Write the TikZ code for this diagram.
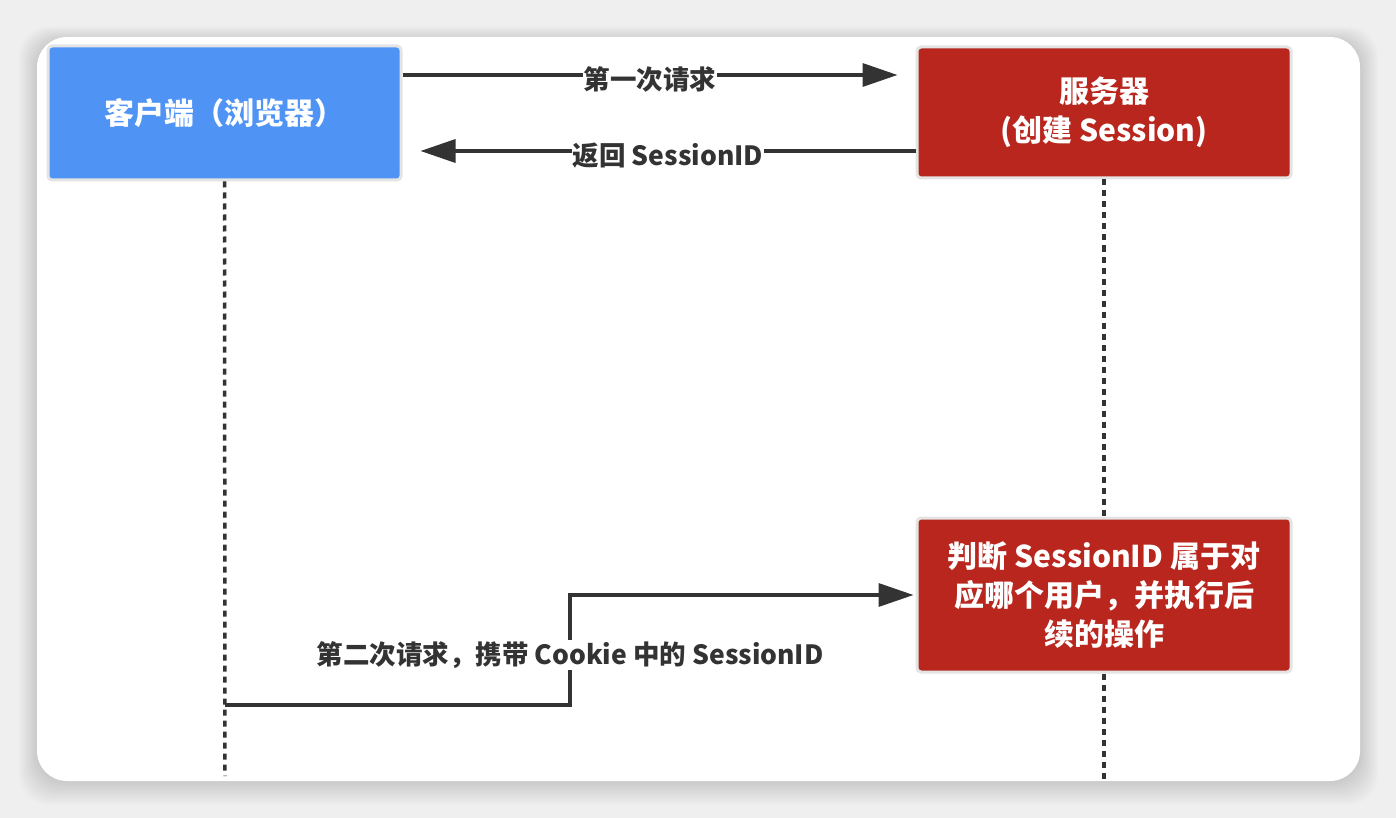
\documentclass[tikz,border=0pt]{standalone}
\usepackage{fontspec}
\setmainfont{Noto Sans CJK SC}
\usepackage{tikz}
\usetikzlibrary{arrows.meta,positioning,calc}
\definecolor{Ink}{HTML}{333333}
\definecolor{ClientBlue}{HTML}{4F94F5}
\definecolor{ServerRed}{HTML}{B8261E}
\definecolor{Halo}{HTML}{E4E4E4}
\definecolor{Backdrop}{HTML}{EFEFEF}

\begin{document}
\begin{tikzpicture}[x=1pt,y=-1pt,
  actor/.style={rounded corners=4pt,draw=Halo,line width=3pt,text=white,align=center,font=\fontsize{30}{39}\selectfont\bfseries},
  msg/.style={fill=white,text=Ink,inner sep=1pt,font=\fontsize{26.5}{30}\selectfont\bfseries},
  arrow/.style={-{Triangle[length=35pt,width=23pt]},line width=3.5pt,draw=Ink},
  life/.style={line width=3.5pt,draw=Ink,dash pattern=on 6pt off 5pt}
]
\useasboundingbox (0,0) rectangle (1396,818);
\fill[Backdrop] (0,0) rectangle (1396,818);
% card with a soft shadow
\foreach \i in {1,...,12} {
  \fill[black,opacity=0.012,rounded corners=30pt] (37-\i*1.5,37-\i*1.2+4) rectangle (1360+\i*1.5,781+\i*2);
}
\fill[white,rounded corners=30pt] (37,37) rectangle (1360,781);

\node[actor,fill=ClientBlue,minimum width=353pt,minimum height=134pt] (client) at (224.5,113) {客户端（浏览器）};
\node[actor,fill=ServerRed,minimum width=374pt,minimum height=131pt] (server) at (1104,112.5) {服务器\\(创建 Session)};
\node[actor,fill=ServerRed,minimum width=374pt,minimum height=154pt] (judge) at (1104,595) {判断 SessionID 属于对\\应哪个用户，并执行后\\续的操作};

\coordinate (cend) at (225,776);
\coordinate (send) at (1104,780);
\coordinate (c2) at (225,705);

% lifelines
\draw[life] (client.south) -- (cend);
\draw[life] (server.south) -- (judge.north);
\draw[life] (judge.south) -- (send);

% messages
\draw[arrow,shorten >=18pt] ([yshift=38pt]client.east) -- ([yshift=38pt]client.east -| server.west)
  node[msg,midway,xshift=-9pt,yshift=-4pt] (m1) {第一次请求};
\draw[arrow,shorten >=18pt] ([yshift=-38pt]client.east -| server.west) -- ([yshift=-38pt]client.east)
  node[msg,midway,xshift=9pt,yshift=-5pt] (m2) {返回 SessionID};
\draw[arrow,shorten >=2pt] (c2) -- ++(345,0) |- (judge.west);
\node[msg] (m3) at (570,655) {第二次请求，携带 Cookie 中的 SessionID};
\end{tikzpicture}
\end{document}
